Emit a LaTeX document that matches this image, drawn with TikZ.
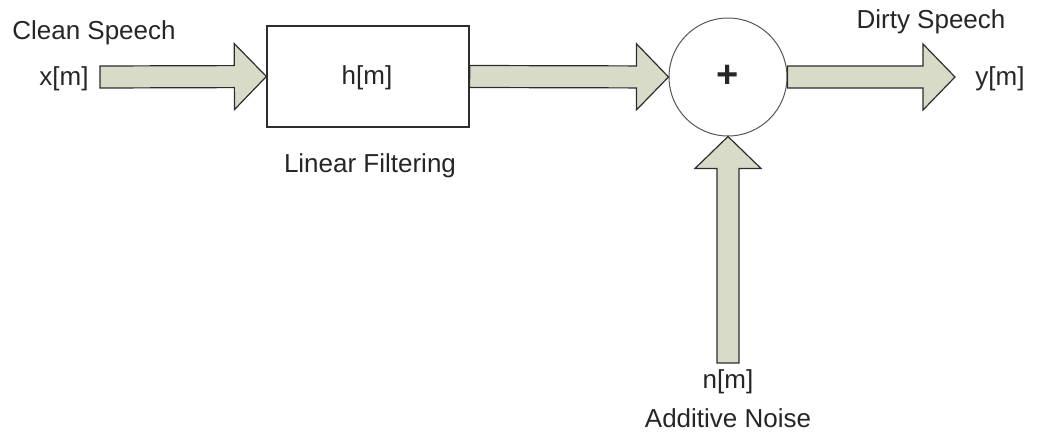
\documentclass[tikz,border=0pt]{standalone}
\usepackage{fontspec}
\setmainfont{Liberation Sans}
\usetikzlibrary{calc}
\definecolor{arrowfill}{RGB}{217,219,201}
\definecolor{edge}{RGB}{45,45,45}
\tikzset{
  label/.style={font=\fontsize{26}{29}\selectfont, text=black!85, inner sep=0pt},
  blockbox/.style={draw=edge, line width=1.3pt, fill=white, minimum width=202pt, minimum height=101pt, inner sep=0pt},
  sumnode/.style={circle, draw=edge!80, line width=1pt, fill=white, minimum size=118pt, inner sep=0pt},
  blockarrow/.style={draw=edge, line width=1.2pt, fill=arrowfill, line join=miter}
}
% wide block arrow from #1 to #2: shaft half-width 11, head half-width 33, head length 32
\newcommand\blockarrow[2]{%
  \coordinate (ba-h) at ($(#2)!32pt!(#1)$);
  \draw[blockarrow] ($(#1)!11pt!90:(#2)$) -- ($(ba-h)!11pt!-90:(#1)$) -- ($(ba-h)!33pt!-90:(#1)$)
    -- (#2) -- ($(ba-h)!33pt!90:(#1)$) -- ($(ba-h)!11pt!90:(#1)$) -- ($(#1)!11pt!-90:(#2)$) -- cycle;}
\begin{document}
\begin{tikzpicture}[x=1pt, y=1pt]
  \useasboundingbox (0,0) rectangle (1039,-439);

  % blocks
  \node[blockbox] (filter) at (368,-76.5) {};
  \node[sumnode] (sum) at (728,-77) {};

  % signal end points
  \coordinate (xin) at (100,-77);
  \coordinate (yout) at (955,-77);
  \coordinate (nin) at (728,-363);

  % connectors
  \blockarrow{xin}{filter.west}
  \blockarrow{filter.east}{sum.west}
  \blockarrow{sum.east}{yout}
  \blockarrow{nin}{sum.south}

  % texts
  \node[label] (hlabel) at (367,-78) {h[m]};
  \node[label, font=\fontsize{38}{40}\selectfont\bfseries] (plus) at (728,-76) {+};
  \node[label] (clean) at (94,-33) {Clean Speech};
  \node[label] (xlabel) at (64,-79) {x[m]};
  \node[label] (linear) at (370,-166) {Linear Filtering};
  \node[label] (dirty) at (931,-22) {Dirty Speech};
  \node[label] (ylabel) at (1000,-79) {y[m]};
  \node[label] (nlabel) at (728,-382) {n[m]};
  \node[label] (noise) at (728,-418) {Additive Noise};
\end{tikzpicture}
\end{document}
